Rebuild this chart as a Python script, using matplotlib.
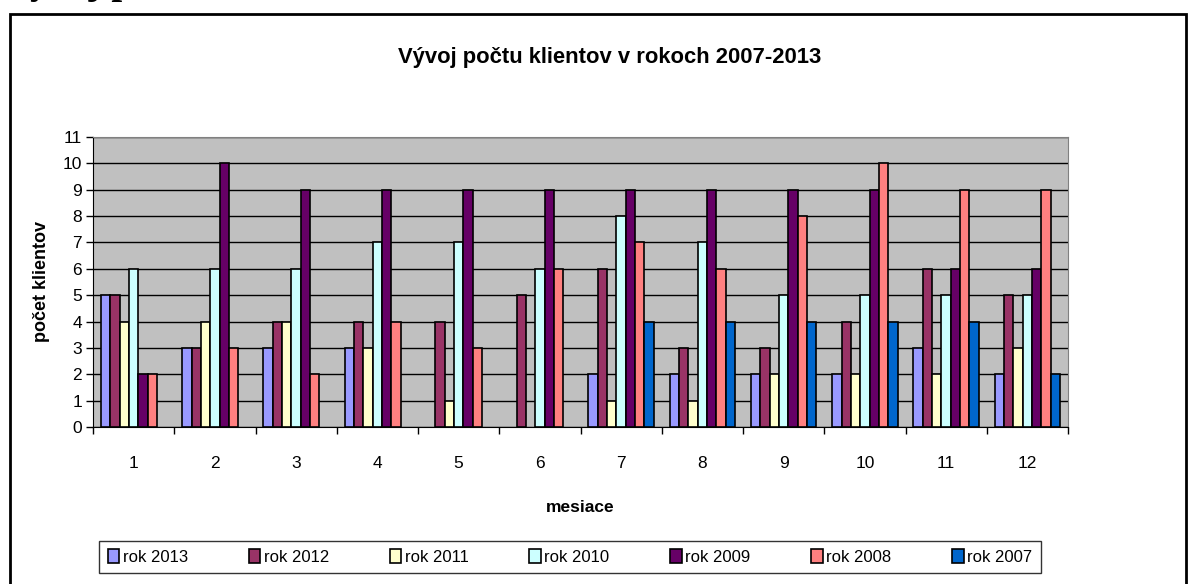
import numpy as np
import matplotlib.pyplot as plt
from matplotlib.patches import Rectangle

# data
mesiace = [1, 2, 3, 4, 5, 6, 7, 8, 9, 10, 11, 12]
roky = ['rok 2013', 'rok 2012', 'rok 2011', 'rok 2010', 'rok 2009', 'rok 2008', 'rok 2007']
rok_2013 = [5, 3, 3, 3, 0, 0, 2, 2, 2, 2, 3, 2]
rok_2012 = [5, 3, 4, 4, 4, 5, 6, 3, 3, 4, 6, 5]
rok_2011 = [4, 4, 4, 3, 1, 0, 1, 1, 2, 2, 2, 3]
rok_2010 = [6, 6, 6, 7, 7, 6, 8, 7, 5, 5, 5, 5]
rok_2009 = [2, 10, 9, 9, 9, 9, 9, 9, 9, 9, 6, 6]
rok_2008 = [2, 3, 2, 4, 3, 6, 7, 6, 8, 10, 9, 9]
rok_2007 = [0, 0, 0, 0, 0, 0, 4, 4, 4, 4, 4, 2]
farby = ['#9999FF', '#993366', '#FFFFCC', '#CCFFFF', '#660066', '#FF8080', '#0066CC']

series = [rok_2013, rok_2012, rok_2011, rok_2010, rok_2009, rok_2008, rok_2007]

plt.rcParams['font.family'] = ['Liberation Sans', 'DejaVu Sans']

fig = plt.figure(figsize=(11.93, 5.84), dpi=100)
ax = fig.add_axes([93/1193, 1-427/584, (1068-93)/1193, 290/584])
ax.set_facecolor('#C0C0C0')

x = np.arange(1, 13)
w = 0.115
for i, (vals, lab, c) in enumerate(zip(series, roky, farby)):
    v = np.array(vals, dtype=float)
    v[v == 0] = np.nan  # nulove stlpce sa nekreslia
    ax.bar(x + (i - 3) * w, v, w, color=c, edgecolor='black', linewidth=1.2, label=lab, zorder=3)

ax.set_xlim(0.5, 12.5)
ax.set_ylim(0, 11)
ax.set_yticks(range(0, 12))
ax.yaxis.grid(True, color='black', linewidth=1, zorder=1)
ax.set_axisbelow(True)

# ticky na hraniciach kategorii, popisy v strede
ax.set_xticks(np.arange(0.5, 13, 1))
ax.set_xticklabels([])
ax.set_xticks(x, minor=True)
ax.set_xticklabels([str(m) for m in mesiace], minor=True)
ax.tick_params(axis='x', which='major', length=5, direction='out', width=1)
ax.tick_params(axis='x', which='minor', length=0, pad=21, labelsize=12.5)
ax.tick_params(axis='y', length=5, direction='out', width=1, labelsize=12.5, pad=3)

for s in ['top', 'right']:
    ax.spines[s].set_color('#808080')
for s in ['left', 'bottom']:
    ax.spines[s].set_color('black')

ax.set_ylabel('počet klientov', fontsize=13, fontweight='bold', labelpad=9)
fig.text(580/1193, 1-507/584, 'mesiace', ha='center', va='center', fontsize=12.5, fontweight='bold')
fig.text(610/1193, 1-57/584, 'Vývoj počtu klientov v rokoch 2007-2013', ha='center', va='center',
         fontsize=15.8, fontweight='bold')

# nadpis nad grafom, orezany hornym okrajom (vidno len dolne casti pismen)
fig.text(2/1193, 1+7/584, 'Vývoj počtu klientov', ha='left', va='baseline', fontsize=28,
         fontweight='bold', family=['Liberation Serif', 'DejaVu Serif'])

# ramik okolo grafu
fig.patches.append(Rectangle((10/1193, -0.01), 1176/1193, 1-14/584 + 0.01, transform=fig.transFigure,
                             fill=False, edgecolor='black', linewidth=2))

leg = fig.legend(loc='center', bbox_to_anchor=(570/1193, 1-557/584), ncol=7, fontsize=12,
                 handlelength=0.7, handleheight=0.9, handletextpad=0.2, columnspacing=3.65,
                 fancybox=False, frameon=True, borderpad=0.5)
leg.get_frame().set_edgecolor('black')
leg.get_frame().set_linewidth(1)

fig.savefig('out.png', dpi=100)
